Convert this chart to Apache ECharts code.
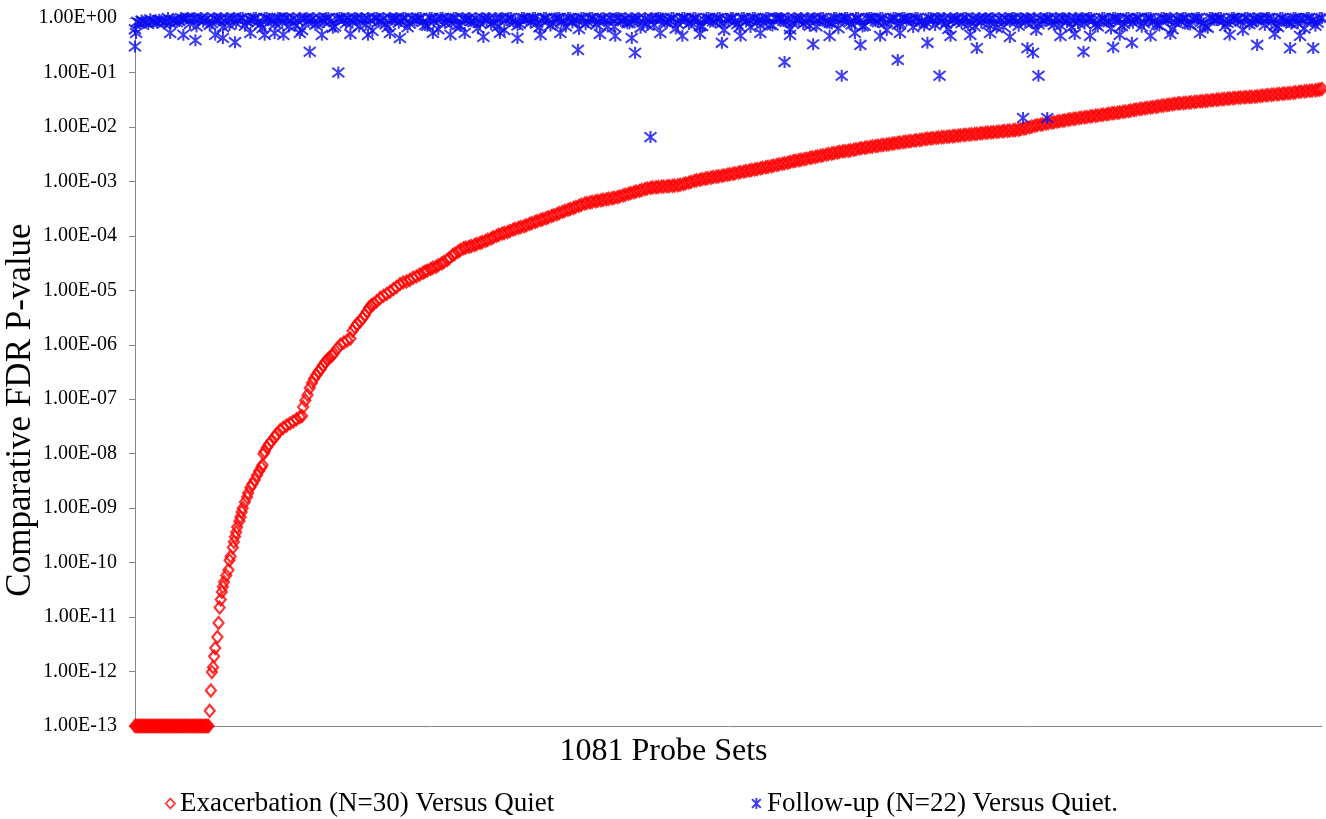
<!DOCTYPE html>
<html><head><meta charset="utf-8">
<script src="https://cdn.jsdelivr.net/npm/echarts@6/dist/echarts.min.js"></script>
<style>html,body{margin:0;padding:0;background:#fff}#c{width:1326px;height:819px}</style>
</head><body><div id="c"></div>
<script>
// ---- text ----
const exacName = 'Exacerbation (N=30) Versus Quiet';
const followName = 'Follow-up (N=22) Versus Quiet.';
const xAxisTitle = '1081 Probe Sets';
const yAxisTitle = 'Comparative FDR P-value';
const yTickLabels = ['1.00E+00','1.00E-01','1.00E-02','1.00E-03','1.00E-04','1.00E-05','1.00E-06','1.00E-07','1.00E-08','1.00E-09','1.00E-10','1.00E-11','1.00E-12','1.00E-13'];
const probeCount = 1081;
const pFloor = 1e-13;

// ---- Exacerbation series (sorted p-values) ----
const exacFloorIdx = [1,2,3,4,5,6,7,8,9,10,11,12,13,14,15,16,17,18,19,20,21,22,23,24,25,26,27,28,29,30,31,32,33,34,35,36,37,38,39,40,41,42,43,44,45,46,47,48,49,50,51,52,53,54,55,56,57,58,59,60,61,62,63,64,65,66,67,68];
const exacSteep = [[69,1.9e-13],[70,4.5e-13],[71,9.8e-13],[72,1.2e-12],[73,1.9e-12],[74,2.7e-12],[76,4.3e-12],[77,7.8e-12],[78,1.5e-11],[79,2.1e-11],[80,2.9e-11],[81,3.6e-11],[82,4.4e-11],[84,5.8e-11],[86,7.3e-11],[87,1.1e-10],[88,1.3e-10],[90,1.9e-10],[91,2.4e-10],[92,3e-10],[93,3.6e-10],[94,4.5e-10],[96,5.8e-10],[97,6.9e-10],[98,8.5e-10],[99,1e-9],[101,1.3e-9],[103,1.6e-9],[104,1.9e-9],[106,2.4e-9],[108,2.8e-9],[110,3.3e-9],[112,4e-9],[114,4.8e-9],[116,5.6e-9],[117,6.2e-9],[118,1e-8],[119,1.1e-8],[121,1.3e-8],[123,1.5e-8],[125,1.7e-8],[128,2e-8],[130,2.3e-8],[133,2.7e-8],[136,3e-8],[139,3.3e-8],[142,3.6e-8],[145,3.9e-8],[148,4.3e-8],[151,4.7e-8],[153,4.9e-8],[154,7.2e-8],[156,9.5e-8],[158,1.2e-7],[160,1.6e-7],[162,2e-7],[164,2.4e-7],[166,2.8e-7],[168,3.2e-7],[170,3.6e-7],[172,4.2e-7],[174,4.8e-7],[176,5.3e-7],[178,5.8e-7],[180,6.3e-7],[182,7e-7],[185,8.5e-7],[188,1e-6],[191,1.1e-6],[194,1.2e-6],[197,1.3e-6],[199,1.8e-6],[201,2.1e-6],[203,2.4e-6],[206,2.7e-6],[208,3.1e-6],[210,3.5e-6],[212,4.1e-6],[214,4.8e-6],[216,5.3e-6],[218,5.6e-6],[221,6.3e-6],[224,7.2e-6],[227,7.9e-6],[230,8.6e-6],[233,9.4e-6],[236,1.05e-5],[239,1.15e-5],[242,1.3e-5],[245,1.4e-5],[248,1.45e-5],[251,1.55e-5],[254,1.7e-5],[257,1.8e-5],[260,1.95e-5],[263,2.1e-5]];
const exacUpperStart = 265, exacUpperStep = 5;
const exacUpper = [
2.2e-5,2.45e-5,2.7e-5,3.1e-5,3.6e-5,4.4e-5,5.1e-5,5.9e-5,6.3e-5,6.8e-5,
7.4e-5,8.1e-5,8.9e-5,1e-4,1.1e-4,1.17e-4,1.3e-4,1.4e-4,1.5e-4,1.65e-4,
1.8e-4,1.95e-4,2.1e-4,2.3e-4,2.5e-4,2.75e-4,3e-4,3.25e-4,3.55e-4,3.9e-4,
4.1e-4,4.3e-4,4.5e-4,4.7e-4,4.9e-4,5.1e-4,5.5e-4,5.9e-4,6.3e-4,6.7e-4,
7.2e-4,7.6e-4,7.8e-4,8e-4,8.1e-4,8.3e-4,8.5e-4,8.9e-4,9.5e-4,1.02e-3,
1.07e-3,1.12e-3,1.17e-3,1.22e-3,1.26e-3,1.32e-3,1.38e-3,1.45e-3,1.51e-3,1.58e-3,
1.65e-3,1.73e-3,1.82e-3,1.9e-3,2e-3,2.1e-3,2.2e-3,2.35e-3,2.45e-3,2.55e-3,
2.7e-3,2.8e-3,2.95e-3,3.1e-3,3.25e-3,3.4e-3,3.55e-3,3.65e-3,3.8e-3,4e-3,
4.15e-3,4.3e-3,4.45e-3,4.6e-3,4.75e-3,4.9e-3,5.1e-3,5.25e-3,5.45e-3,5.6e-3,
5.75e-3,6e-3,6.15e-3,6.3e-3,6.45e-3,6.6e-3,6.75e-3,6.9e-3,7.1e-3,7.25e-3,
7.4e-3,7.6e-3,7.8e-3,7.95e-3,8.1e-3,8.3e-3,8.5e-3,8.7e-3,8.9e-3,9.3e-3,
9.8e-3,1.05e-2,1.1e-2,1.15e-2,1.2e-2,1.25e-2,1.3e-2,1.35e-2,1.4e-2,1.45e-2,
1.5e-2,1.55e-2,1.6e-2,1.65e-2,1.7e-2,1.78e-2,1.82e-2,1.9e-2,1.95e-2,2.05e-2,
2.13e-2,2.2e-2,2.28e-2,2.35e-2,2.45e-2,2.52e-2,2.6e-2,2.7e-2,2.75e-2,2.8e-2,
2.87e-2,2.95e-2,3e-2,3.07e-2,3.15e-2,3.22e-2,3.3e-2,3.37e-2,3.45e-2,3.5e-2,
3.55e-2,3.6e-2,3.7e-2,3.8e-2,3.9e-2,3.98e-2,4.07e-2,4.15e-2,4.25e-2,4.4e-2,
4.5e-2,4.6e-2,4.7e-2];
const exacUpperBStart = 267, exacUpperBStep = 5;
const exacUpperB = [
2.3e-5,2.6e-5,2.9e-5,3.3e-5,3.9e-5,4.7e-5,5.5e-5,6.1e-5,6.5e-5,7.1e-5,
7.7e-5,8.5e-5,9.4e-5,1.05e-4,1.13e-4,1.23e-4,1.35e-4,1.45e-4,1.57e-4,1.72e-4,
1.87e-4,2.02e-4,2.2e-4,2.4e-4,2.62e-4,2.87e-4,3.12e-4,3.4e-4,3.72e-4,4e-4,
4.2e-4,4.4e-4,4.6e-4,4.8e-4,5e-4,5.3e-4,5.7e-4,6.1e-4,6.5e-4,6.95e-4,
7.4e-4,7.7e-4,7.9e-4,8.05e-4,8.2e-4,8.4e-4,8.7e-4,9.2e-4,9.8e-4,1.05e-3,
1.1e-3,1.15e-3,1.2e-3,1.24e-3,1.29e-3,1.35e-3,1.41e-3,1.48e-3,1.55e-3,1.62e-3,
1.69e-3,1.78e-3,1.86e-3,1.95e-3,2.05e-3,2.15e-3,2.28e-3,2.4e-3,2.5e-3,2.62e-3,
2.75e-3,2.88e-3,3.02e-3,3.18e-3,3.32e-3,3.48e-3,3.6e-3,3.72e-3,3.9e-3,4.08e-3,
4.22e-3,4.38e-3,4.52e-3,4.68e-3,4.82e-3,5e-3,5.18e-3,5.35e-3,5.52e-3,5.68e-3,
5.88e-3,6.08e-3,6.22e-3,6.38e-3,6.52e-3,6.68e-3,6.82e-3,7e-3,7.18e-3,7.32e-3,
7.5e-3,7.7e-3,7.88e-3,8.02e-3,8.2e-3,8.4e-3,8.6e-3,8.8e-3,9.1e-3,9.55e-3,
1.02e-2,1.08e-2,1.12e-2,1.18e-2,1.22e-2,1.28e-2,1.32e-2,1.38e-2,1.42e-2,1.48e-2,
1.52e-2,1.58e-2,1.62e-2,1.68e-2,1.74e-2,1.8e-2,1.86e-2,1.92e-2,2e-2,2.09e-2,
2.16e-2,2.24e-2,2.31e-2,2.4e-2,2.48e-2,2.56e-2,2.65e-2,2.72e-2,2.78e-2,2.84e-2,
2.91e-2,2.97e-2,3.04e-2,3.11e-2,3.18e-2,3.26e-2,3.33e-2,3.41e-2,3.47e-2,3.52e-2,
3.58e-2,3.65e-2,3.75e-2,3.85e-2,3.94e-2,4.02e-2,4.11e-2,4.2e-2,4.32e-2,4.45e-2,
4.55e-2,4.65e-2,4.78e-2];
const exacTail = [[1079,4.88e-2],[1081,5e-2]];

// ---- Follow-up series ----
const followBandStart = 1, followBandStep = 4;
const followBand = [
0.62,0.8,0.85,0.78,0.88,0.82,0.9,0.86,0.8,0.92,0.88,0.95,1,0.98,0.7,1,0.93,0.75,1,0.9,
0.68,1,0.96,0.8,1,0.72,0.95,1,0.85,0.65,1,0.9,0.78,1,0.98,0.7,1,0.88,0.6,1,
0.93,0.75,1,0.84,1,0.66,0.97,1,0.8,0.9,1,0.7,0.94,1,0.58,1,0.87,0.76,1,0.95,
0.82,1,0.68,0.99,0.9,1,0.74,1,0.86,0.62,1,0.96,0.8,1,0.71,0.92,1,0.84,0.65,1,
0.9,0.77,1,0.97,0.6,1,0.88,0.73,1,0.94,0.82,1,0.67,1,0.91,0.79,1,0.86,0.7,1,
0.95,0.63,1,0.84,1,0.76,0.98,0.9,1,0.69,1,0.87,0.8,1,0.93,0.66,1,0.89,0.75,1,
0.97,0.82,1,0.64,0.92,1,0.78,1,0.88,0.71,1,0.95,0.83,1,0.6,0.9,1,0.77,1,0.86,
0.68,1,0.94,0.8,1,0.73,0.99,1,0.85,0.62,1,0.91,0.78,1,0.96,0.7,1,0.87,0.81,1,
0.65,0.93,1,0.76,1,0.89,0.72,1,0.97,0.84,1,0.6,0.9,1,0.79,1,0.94,0.68,1,0.86,
0.82,1,0.74,0.98,1,0.63,0.91,1,0.8,1,0.88,0.7,1,0.95,0.77,1,0.66,0.92,1,0.85,
1,0.72,0.96,1,0.81,0.6,1,0.89,1,0.75,0.93,1,0.84,0.67,1,0.97,0.79,1,0.9,0.7,
1,0.86,0.64,1,0.94,0.78,1,0.82,1,0.69,0.98,1,0.87,0.73,1,0.91,0.62,1,0.85,1,
0.76,0.95,1,0.8,0.66,1,0.92,1,0.71,0.88,1,0.97,0.6,1,0.83,0.9,1,0.74,1,0.94,
0.68,1,0.86,0.79,1,0.96,0.64,1,0.9,0.82,1];
const followBand2Start = 3, followBand2Step = 4;
const followBand2 = [
0.85,0.9,0.82,0.95,0.88,0.93,0.8,1,0.91,0.84,1,0.97,0.78,1,0.92,0.86,1,0.8,0.96,1,
0.88,0.74,1,0.93,1,0.84,0.9,1,0.76,1,0.95,0.87,1,0.82,1,0.9,0.72,1,0.97,0.85,
1,0.8,0.94,1,0.87,0.7,1,0.92,1,0.83,0.98,1,0.76,0.9,1,0.86,1,0.68,0.95,1,
0.88,1,0.79,0.93,1,0.85,0.72,1,0.96,1,0.82,0.9,1,0.75,1,0.94,0.87,1,0.8,0.97,
1,0.84,0.69,1,0.92,1,0.86,0.78,1,0.95,1,0.81,0.9,1,0.73,0.98,1,0.88,1,0.83,
0.91,1,0.77,1,0.94,0.86,1,0.7,0.96,1,0.89,1,0.8,0.93,1,0.84,0.74,1,0.97,1,
0.85,0.9,1,0.78,1,0.95,0.83,1,0.71,0.92,1,0.87,1,0.8,0.96,1,0.86,0.68,1,0.93,
1,0.82,0.9,1,0.75,1,0.97,0.88,1,0.8,0.94,1,0.84,0.72,1,0.91,1,0.86,0.79,1,
0.95,1,0.83,0.9,1,0.7,0.98,1,0.87,1,0.81,0.93,1,0.76,1,0.89,0.96,1,0.84,0.73,
1,0.92,1,0.86,0.79,1,0.95,0.88,1,0.74,1,0.9,0.83,1,0.97,0.8,1,0.69,0.93,1,
0.87,1,0.82,0.95,1,0.77,0.9,1,0.85,1,0.72,0.98,1,0.88,0.81,1,0.94,1,0.76,0.9,
1,0.84,1,0.96,0.71,1,0.89,0.93,1,0.8,1,0.86,0.75,1,0.95,1,0.83,0.9,1,0.78,
0.97,1,0.85,0.7,1,0.92,1,0.88,0.81,1,0.94,0.86,1,0.77,1,0.9,0.98,1,0.83,0.74,
1,0.91,0.85,1,0.79,0.96,1,0.88,0.72,1];
const followLow = [[1,0.30],[2,0.53],[33,0.53],[45,0.49],[56,0.39],[74,0.49],[81,0.43],[92,0.36],[106,0.53],[119,0.49],[128,0.53],[136,0.49],[151,0.53],[160,0.24],[171,0.49],[186,0.10],[197,0.51],[213,0.49],[233,0.53],[242,0.43],[272,0.53],[288,0.49],[301,0.53],[318,0.45],[333,0.53],[349,0.43],[370,0.49],[388,0.53],[404,0.26],[424,0.51],[438,0.47],[453,0.43],[456,0.23],[470,6.5e-3],[479,0.53],[499,0.47],[515,0.51],[535,0.35],[552,0.47],[570,0.53],[592,0.155],[597,0.49],[618,0.33],[633,0.47],[644,0.087],[656,0.53],[661,0.32],[679,0.47],[695,0.17],[697,0.53],[722,0.35],[733,0.087],[743,0.47],[761,0.49],[767,0.28],[779,0.53],[797,0.45],[809,0.0146],[813,0.28],[818,0.23],[823,0.087],[831,0.0146],[843,0.47],[856,0.51],[864,0.24],[870,0.47],[891,0.29],[897,0.49],[908,0.35],[925,0.47],[943,0.51],[970,0.53],[997,0.49],[1022,0.32],[1038,0.51],[1052,0.28],[1061,0.47],[1073,0.28]];

// ---- build ----
const exacData = [].concat(
  exacFloorIdx.map(i => [i, pFloor]),
  exacSteep,
  exacUpper.map((v, k) => [exacUpperStart + k * exacUpperStep, v]),
  exacUpperB.map((v, k) => [exacUpperBStart + k * exacUpperBStep, v]),
  exacTail
);
const followData = [].concat(
  followBand.map((v, k) => [followBandStart + k * followBandStep, v]),
  followBand2.map((v, k) => [followBand2Start + k * followBand2Step, v]),
  followLow
);

const serif = 'Liberation Serif';
const red = '#FF0000', blue = '#0A0AF0', axisGray = '#868686';
const asterisk = 'path://M1,1L9,9M9,1L1,9M5,0L5,10';

const chart = echarts.init(document.getElementById('c'));
chart.setOption({
  animation: false,
  backgroundColor: '#fff',
  textStyle: { fontFamily: serif },
  grid: { left: 135, right: 4, top: 18, bottom: 93, containLabel: false, outerBoundsMode: 'none' },
  xAxis: {
    type: 'value', min: 1, max: probeCount,
    name: xAxisTitle, nameLocation: 'middle', nameGap: 10,
    nameTextStyle: { fontSize: 32, color: '#000', fontFamily: serif, padding: [0, 130, 0, 0] },
    axisLine: { show: true, onZero: false, lineStyle: { color: axisGray, width: 1 } },
    axisTick: { show: false }, axisLabel: { show: false }, splitLine: { show: false }
  },
  yAxis: {
    type: 'log', logBase: 10, min: pFloor, max: 1, interval: 1, splitNumber: 13,
    name: yAxisTitle, nameLocation: 'middle', nameGap: 97, nameRotate: 90, nameMoveOverlap: false,
    nameTextStyle: { fontSize: 35, color: '#000', fontFamily: serif, padding: [0, 76, 0, 0] },
    axisLine: { show: true, lineStyle: { color: axisGray, width: 1 } },
    axisTick: { show: true, length: 6, lineStyle: { color: axisGray } },
    axisLabel: {
      fontSize: 20, color: '#000', fontFamily: serif, margin: 18,
      formatter: v => yTickLabels[Math.round(-Math.log10(v))]
    },
    splitLine: { show: false }, minorTick: { show: false }
  },
  legend: [
    { left: 160, top: 785, data: [{ name: exacName, icon: 'diamond' }], itemWidth: 9, itemHeight: 10, itemGap: 0,
      textStyle: { fontSize: 27, color: '#000', fontFamily: serif },
      itemStyle: { color: 'rgba(0,0,0,0)', borderColor: red, borderWidth: 1.8 } },
    { left: 746, top: 785, data: [{ name: followName }], itemWidth: 11, itemHeight: 11, itemGap: 0,
      textStyle: { fontSize: 27, color: '#000', fontFamily: serif } }
  ],
  series: [
    { name: exacName, type: 'scatter', data: exacData, symbol: 'diamond', symbolSize: [10, 12],
      itemStyle: { color: 'rgba(0,0,0,0)', borderColor: red, borderWidth: 2.2 }, z: 2, clip: false },
    { name: followName, type: 'scatter', data: followData, symbol: asterisk, symbolSize: 12,
      itemStyle: { color: blue, borderColor: blue, borderWidth: 2 }, z: 3, clip: false }
  ]
});
</script></body></html>
